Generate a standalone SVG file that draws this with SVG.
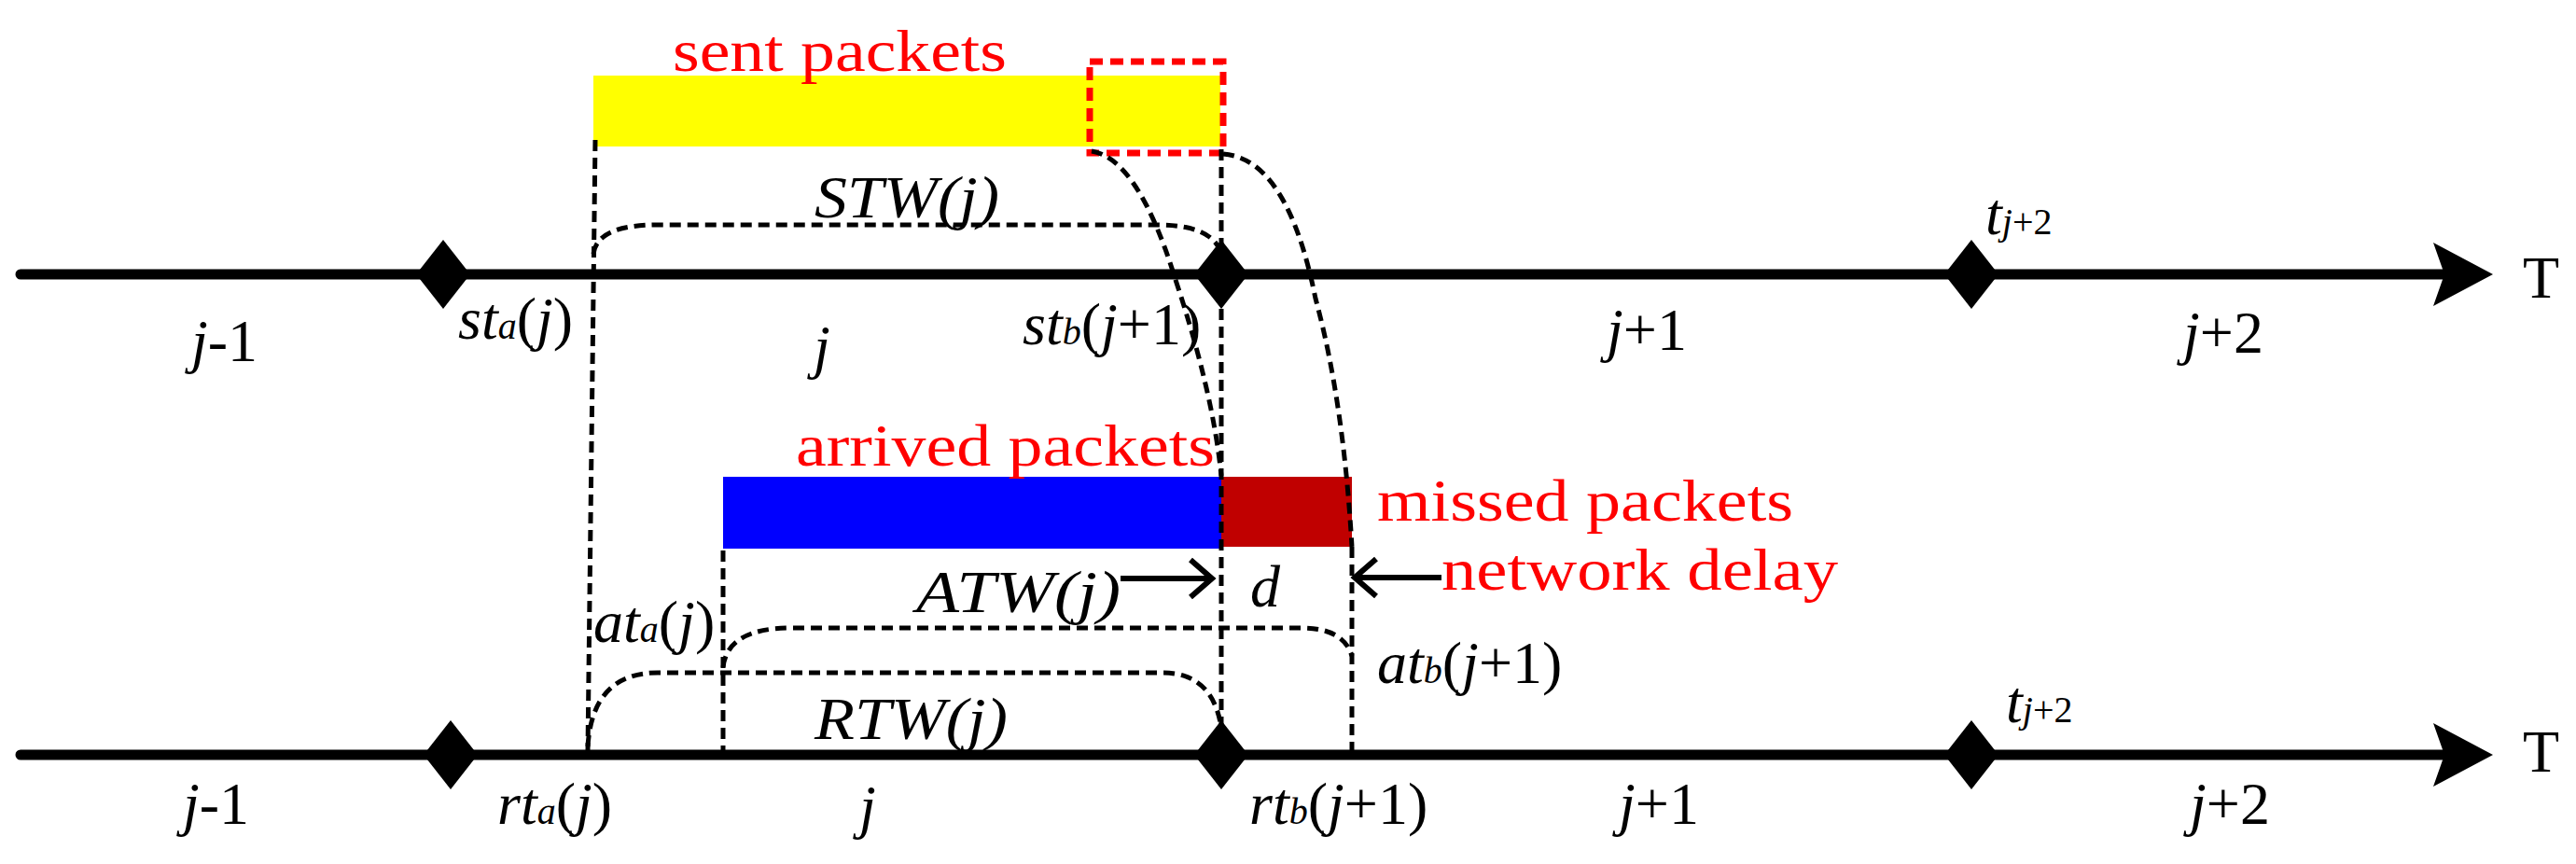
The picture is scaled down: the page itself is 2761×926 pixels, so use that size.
<svg xmlns="http://www.w3.org/2000/svg" width="2761" height="926" viewBox="0 0 2761 926">
<style>
text{font-family:"Liberation Serif","DejaVu Serif",serif;font-size:64px;fill:#000}
.i{font-style:italic}
.r{fill:#ff0000}
.s{font-size:40px}
.axis{stroke:#000;stroke-width:11;stroke-linecap:round;fill:none}
.d{stroke:#000;stroke-width:5;stroke-dasharray:12 7;fill:none}
.ar{stroke:#000;stroke-width:6;fill:none}
</style>
<g id="bars">
<rect x="636" y="81" width="672" height="76" fill="#ffff00"/>
<rect x="1168" y="66" width="143" height="98" fill="none" stroke="#ff0000" stroke-width="7" stroke-dasharray="14 8"/>
<rect x="775" y="511" width="534" height="77" fill="#0000ff"/>
<rect x="1309" y="511" width="140" height="75" fill="#c00000"/>
</g>
<g id="axes">
<line class="axis" x1="22" y1="294" x2="2630" y2="294"/>
<path d="M2672 294 L2608 260 L2620 294 L2608 328 Z"/>
<line class="axis" x1="22" y1="809" x2="2630" y2="809"/>
<path d="M2672 809 L2608 775 L2620 809 L2608 843 Z"/>
<path d="M475 257 L504 294 L475 331 L446 294 Z"/>
<path d="M1309 257 L1338 294 L1309 331 L1280 294 Z"/>
<path d="M2113 257 L2142 294 L2113 331 L2084 294 Z"/>
<path d="M483 772 L512 809 L483 846 L454 809 Z"/>
<path d="M1309 772 L1338 809 L1309 846 L1280 809 Z"/>
<path d="M2113 772 L2142 809 L2113 846 L2084 809 Z"/>
</g>
<g id="connectors">
<line class="d" x1="638" y1="150" x2="630" y2="805"/>
<line class="d" x1="1309" y1="160" x2="1309" y2="805"/>
<line class="d" x1="775" y1="590" x2="775" y2="805"/>
<line class="d" x1="1449" y1="586" x2="1449" y2="805"/>
<path class="d" d="M636 272 Q640 241 705 241 L1241 241 Q1300 241 1309 272"/>
<path class="d" d="M775 715 Q780 673 848 673 L1395 673 Q1440 673 1449 703"/>
<path class="d" d="M630 800 Q635 721 705 721 L1246 721 Q1300 721 1309 780"/>
<path class="d" d="M1170 162 Q1220 170 1260 300 Q1300 420 1309 510"/>
<path class="d" d="M1311 165 Q1380 170 1410 320 Q1440 430 1449 586"/>
<line class="ar" x1="1201" y1="620" x2="1298" y2="620"/>
<path class="ar" d="M1276 600 L1299 620 L1276 640"/>
<line class="ar" x1="1545" y1="619" x2="1454" y2="619"/>
<path class="ar" d="M1475 599 L1452 619 L1475 639"/>
</g>
<g id="labels">
<text class="r" x="721" y="76" textLength="358" lengthAdjust="spacingAndGlyphs">sent packets</text>
<text class="i" x="873" y="233" textLength="198" lengthAdjust="spacingAndGlyphs">STW(j)</text>
<text class="r" x="853" y="499" textLength="449" lengthAdjust="spacingAndGlyphs">arrived packets</text>
<text class="r" x="1476" y="558" textLength="446" lengthAdjust="spacingAndGlyphs">missed packets</text>
<text class="r" x="1545" y="632" textLength="425" lengthAdjust="spacingAndGlyphs">network delay</text>
<text class="i" x="1340" y="650">d</text>
<text class="i" x="982" y="656" textLength="219" lengthAdjust="spacingAndGlyphs">ATW(j)</text>
<text class="i" x="873" y="792" textLength="207" lengthAdjust="spacingAndGlyphs">RTW(j)</text>
<text x="636" y="688"><tspan class="i">at</tspan><tspan class="i s">a</tspan><tspan>(</tspan><tspan class="i">j</tspan><tspan>)</tspan></text>
<text x="1476" y="732"><tspan class="i">at</tspan><tspan class="i s">b</tspan><tspan>(</tspan><tspan class="i">j</tspan><tspan>+1)</tspan></text>
<text x="205" y="387"><tspan class="i">j</tspan>-1</text>
<text x="491" y="363"><tspan class="i">st</tspan><tspan class="i s">a</tspan><tspan>(</tspan><tspan class="i">j</tspan><tspan>)</tspan></text>
<text class="i" x="872" y="393">j</text>
<text x="1096" y="369"><tspan class="i">st</tspan><tspan class="i s">b</tspan><tspan>(</tspan><tspan class="i">j</tspan><tspan>+1)</tspan></text>
<text x="1722" y="375"><tspan class="i">j</tspan>+1</text>
<text x="2340" y="378"><tspan class="i">j</tspan>+2</text>
<text x="2128" y="251"><tspan class="i">t</tspan><tspan class="i s">j</tspan><tspan class="s">+2</tspan></text>
<text x="2704" y="319">T</text>
<text x="196" y="883"><tspan class="i">j</tspan>-1</text>
<text x="533" y="883"><tspan class="i">rt</tspan><tspan class="i s">a</tspan><tspan>(</tspan><tspan class="i">j</tspan><tspan>)</tspan></text>
<text class="i" x="921" y="886">j</text>
<text x="1339" y="883"><tspan class="i">rt</tspan><tspan class="i s">b</tspan><tspan>(</tspan><tspan class="i">j</tspan><tspan>+1)</tspan></text>
<text x="1735" y="883"><tspan class="i">j</tspan>+1</text>
<text x="2347" y="883"><tspan class="i">j</tspan>+2</text>
<text x="2150" y="774"><tspan class="i">t</tspan><tspan class="i s">j</tspan><tspan class="s">+2</tspan></text>
<text x="2704" y="827">T</text>
</g>
</svg>
